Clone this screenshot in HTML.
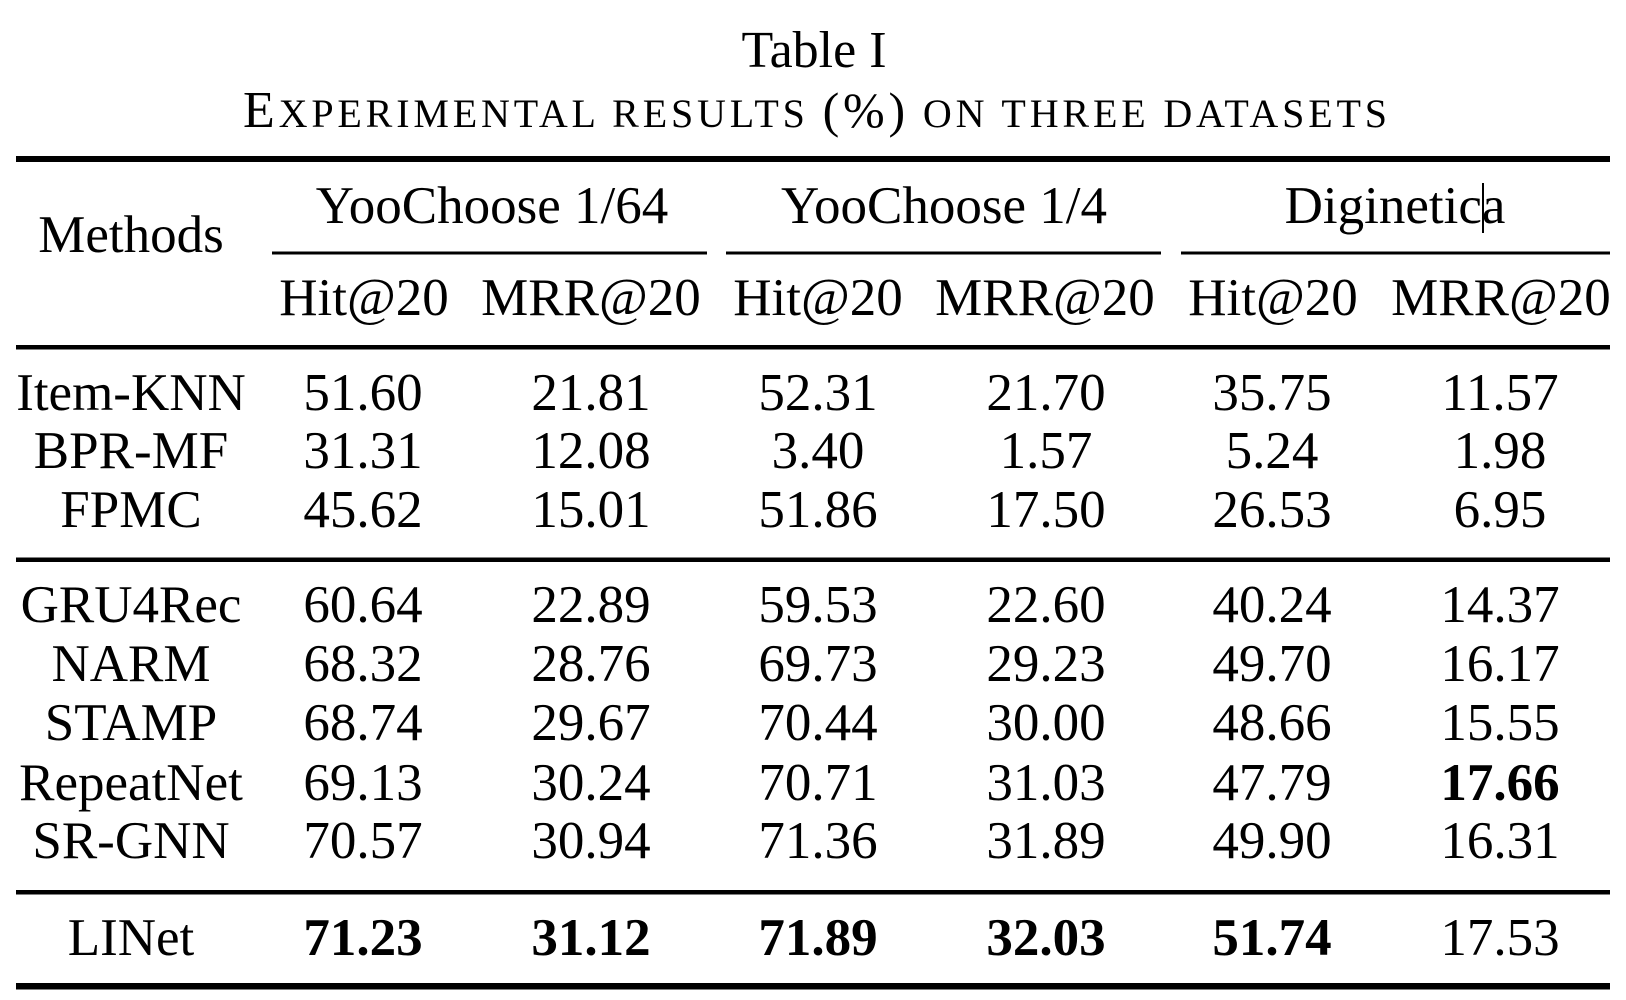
<!DOCTYPE html>
<html>
<head>
<meta charset="utf-8">
<style>
  html, body { margin: 0; padding: 0; background: #ffffff; }
  body { width: 1626px; height: 1000px; overflow: hidden; }
  svg { display: block; }
  text { font-family: "Liberation Serif", "Times New Roman", serif; fill: #000; }
  .c { text-anchor: middle; font-size: 53px; }
  .b { font-weight: bold; }
</style>
</head>
<body>
<svg width="1626" height="1000" viewBox="0 0 1626 1000" xmlns="http://www.w3.org/2000/svg">
  <rect x="0" y="0" width="1626" height="1000" fill="#fff"/>

  <!-- Caption -->
  <text x="814" y="67" text-anchor="middle" font-size="52">Table I</text>
  <text x="243" y="127" font-size="52" textLength="1144" lengthAdjust="spacing">E<tspan font-size="40">XPERIMENTAL RESULTS </tspan><tspan font-size="50">(%)</tspan><tspan font-size="40"> ON THREE DATASETS</tspan></text>

  <!-- Rules -->
  <rect x="16" y="156" width="1594" height="6" fill="#000"/>
  <rect x="272" y="251.5" width="435" height="3" fill="#000"/>
  <rect x="726" y="251.5" width="435" height="3" fill="#000"/>
  <rect x="1181" y="251.5" width="429" height="3" fill="#000"/>
  <rect x="16" y="345" width="1594" height="4.5" fill="#000"/>
  <rect x="16" y="557.5" width="1594" height="4.5" fill="#000"/>
  <rect x="16" y="890" width="1594" height="4.5" fill="#000"/>
  <rect x="16" y="983" width="1594" height="6.5" fill="#000"/>

  <!-- Header -->
  <text class="c" x="131" y="252">Methods</text>
  <text class="c" x="492" y="223">YooChoose 1/64</text>
  <text class="c" x="944" y="223">YooChoose 1/4</text>
  <text class="c" x="1395" y="223">Diginetica</text>
  <rect x="1482" y="183" width="2" height="50" fill="#000"/>

  <text class="c" x="364" y="315">Hit@20</text>
  <text class="c" x="591" y="315">MRR@20</text>
  <text class="c" x="818" y="315">Hit@20</text>
  <text class="c" x="1045" y="315">MRR@20</text>
  <text class="c" x="1273" y="315">Hit@20</text>
  <text class="c" x="1501" y="315">MRR@20</text>

  <!-- Group 1 -->
  <text class="c" x="131" y="410">Item-KNN</text>
  <text class="c" x="363" y="410">51.60</text>
  <text class="c" x="591" y="410">21.81</text>
  <text class="c" x="818" y="410">52.31</text>
  <text class="c" x="1046" y="410">21.70</text>
  <text class="c" x="1272" y="410">35.75</text>
  <text class="c" x="1500" y="410">11.57</text>

  <text class="c" x="131" y="468">BPR-MF</text>
  <text class="c" x="363" y="468">31.31</text>
  <text class="c" x="591" y="468">12.08</text>
  <text class="c" x="818" y="468">3.40</text>
  <text class="c" x="1046" y="468">1.57</text>
  <text class="c" x="1272" y="468">5.24</text>
  <text class="c" x="1500" y="468">1.98</text>

  <text class="c" x="131" y="527">FPMC</text>
  <text class="c" x="363" y="527">45.62</text>
  <text class="c" x="591" y="527">15.01</text>
  <text class="c" x="818" y="527">51.86</text>
  <text class="c" x="1046" y="527">17.50</text>
  <text class="c" x="1272" y="527">26.53</text>
  <text class="c" x="1500" y="527">6.95</text>

  <!-- Group 2 -->
  <text class="c" x="131" y="622">GRU4Rec</text>
  <text class="c" x="363" y="622">60.64</text>
  <text class="c" x="591" y="622">22.89</text>
  <text class="c" x="818" y="622">59.53</text>
  <text class="c" x="1046" y="622">22.60</text>
  <text class="c" x="1272" y="622">40.24</text>
  <text class="c" x="1500" y="622">14.37</text>

  <text class="c" x="131" y="681">NARM</text>
  <text class="c" x="363" y="681">68.32</text>
  <text class="c" x="591" y="681">28.76</text>
  <text class="c" x="818" y="681">69.73</text>
  <text class="c" x="1046" y="681">29.23</text>
  <text class="c" x="1272" y="681">49.70</text>
  <text class="c" x="1500" y="681">16.17</text>

  <text class="c" x="131" y="740">STAMP</text>
  <text class="c" x="363" y="740">68.74</text>
  <text class="c" x="591" y="740">29.67</text>
  <text class="c" x="818" y="740">70.44</text>
  <text class="c" x="1046" y="740">30.00</text>
  <text class="c" x="1272" y="740">48.66</text>
  <text class="c" x="1500" y="740">15.55</text>

  <text class="c" x="131" y="800">RepeatNet</text>
  <text class="c" x="363" y="800">69.13</text>
  <text class="c" x="591" y="800">30.24</text>
  <text class="c" x="818" y="800">70.71</text>
  <text class="c" x="1046" y="800">31.03</text>
  <text class="c" x="1272" y="800">47.79</text>
  <text class="c b" x="1500" y="800">17.66</text>

  <text class="c" x="131" y="858">SR-GNN</text>
  <text class="c" x="363" y="858">70.57</text>
  <text class="c" x="591" y="858">30.94</text>
  <text class="c" x="818" y="858">71.36</text>
  <text class="c" x="1046" y="858">31.89</text>
  <text class="c" x="1272" y="858">49.90</text>
  <text class="c" x="1500" y="858">16.31</text>

  <!-- LINet -->
  <text class="c" x="131" y="955">LINet</text>
  <text class="c b" x="363" y="955">71.23</text>
  <text class="c b" x="591" y="955">31.12</text>
  <text class="c b" x="818" y="955">71.89</text>
  <text class="c b" x="1046" y="955">32.03</text>
  <text class="c b" x="1272" y="955">51.74</text>
  <text class="c" x="1500" y="955">17.53</text>
</svg>
</body>
</html>
